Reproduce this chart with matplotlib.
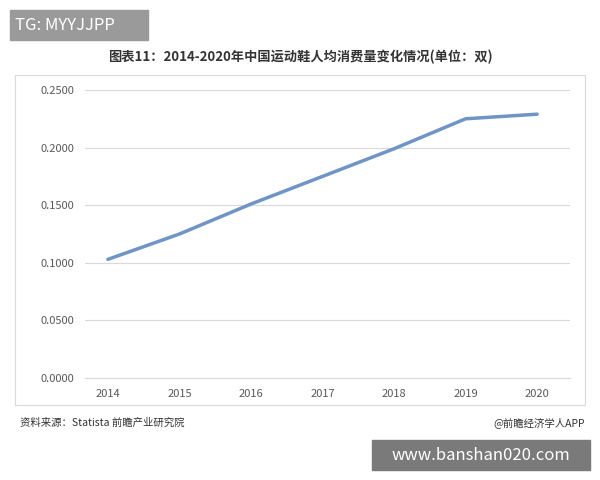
import matplotlib.pyplot as plt
from matplotlib.patches import Rectangle

plt.rcParams['font.family'] = ['Noto Sans CJK SC', 'DejaVu Sans']

years = [2014, 2015, 2016, 2017, 2018, 2019, 2020]
pairs = [0.103, 0.125, 0.151, 0.175, 0.199, 0.225, 0.229]
yticks = [0.0, 0.05, 0.10, 0.15, 0.20, 0.25]

fig = plt.figure(figsize=(6, 4.8), dpi=100)
fig.patch.set_facecolor('white')

# outer chart frame
fig.patches.append(Rectangle((15 / 600, 1 - 405 / 480), 570 / 600, 330 / 480,
                             transform=fig.transFigure, fill=False,
                             edgecolor='#d9d9d9', linewidth=0.8))

ax = fig.add_axes([85 / 600, 1 - 378 / 480, 485 / 600, 288 / 480])
ax.plot(years, pairs, color='#6f94c6', linewidth=2.5, solid_capstyle='round')
ax.set_xlim(2013.68, 2020.46)
ax.set_ylim(0, 0.25)
ax.set_yticks(yticks)
ax.set_yticklabels([f'{v:.4f}' for v in yticks])
ax.set_xticks(years)
ax.grid(axis='y', color='#d9d9d9', linewidth=0.8)
ax.set_axisbelow(True)
for s in ['top', 'right', 'left']:
    ax.spines[s].set_visible(False)
ax.spines['bottom'].set_color('#d9d9d9')
ax.tick_params(length=0, labelsize=8, colors='#595959', pad=8)

fig.text(0.5, 1 - 57 / 480, '图表11：2014-2020年中国运动鞋人均消费量变化情况(单位：双)',
         ha='center', va='center', fontsize=9.5, fontweight='bold', color='#333333')
fig.text(20 / 600, 1 - 423 / 480, '资料来源：Statista 前瞻产业研究院',
         ha='left', va='center', fontsize=7.5, color='#333333')
fig.text(585 / 600, 1 - 423 / 480, '@前瞻经济学人APP',
         ha='right', va='center', fontsize=7.5, color='#333333')

# overlay labels
fig.patches.append(Rectangle((10 / 600, 1 - 40 / 480), 138 / 600, 30 / 480,
                             transform=fig.transFigure, color='#9a9a9a'))
fig.text(15 / 600, 1 - 25 / 480, 'TG: MYYJJPP', ha='left', va='center',
         fontsize=12, color='white')
fig.patches.append(Rectangle((372 / 600, 1 - 470 / 480), 218 / 600, 30 / 480,
                             transform=fig.transFigure, color='#7a7a7a'))
fig.text(481 / 600, 1 - 455 / 480, 'www.banshan020.com', ha='center', va='center',
         fontsize=12, color='white')

fig.savefig('out.png', dpi=100)
